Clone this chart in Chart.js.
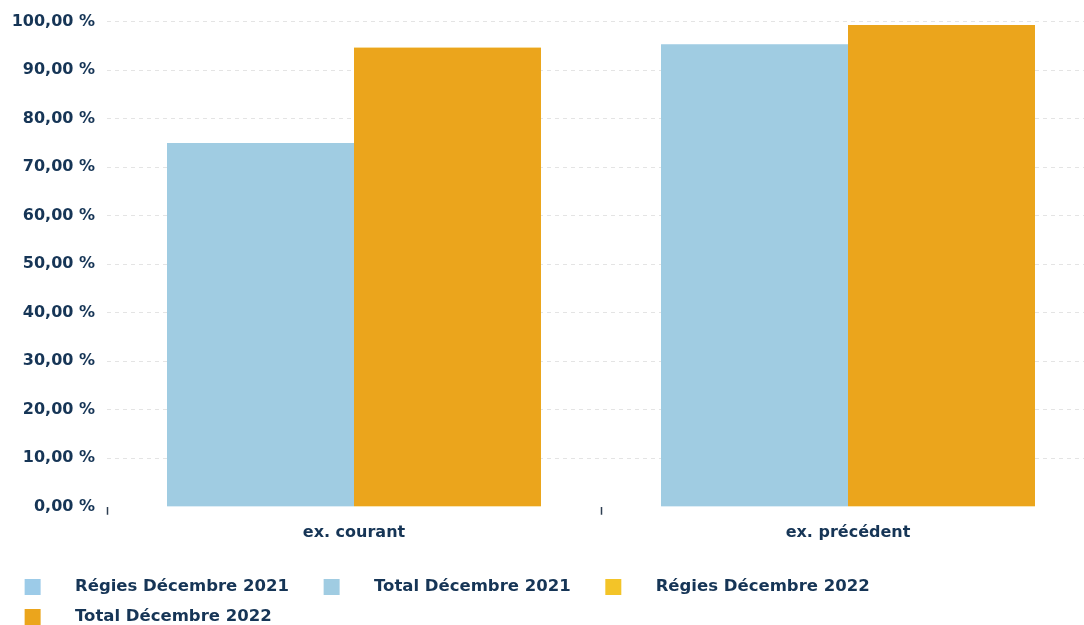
<!DOCTYPE html>
<html>
<head>
<meta charset="utf-8">
<script src="https://cdn.jsdelivr.net/npm/chart.js"></script>
<style>
    html, body { margin: 0; padding: 0; background: #fff; overflow: hidden; }
    #chart { position: absolute; left: -10px; top: 0; }
</style>
</head>
<body>
<canvas id="chart" width="1108" height="640"></canvas>
<script>
// Données
const categories = ['ex. courant', 'ex. précédent'];
const seriesNames = ['Régies Décembre 2021', 'Total Décembre 2021', 'Régies Décembre 2022', 'Total Décembre 2022'];
const regies2021 = [75.0, 95.3];
const total2021 = [75.0, 95.3];
const regies2022 = [94.6, 99.3];
const total2022 = [94.6, 99.3];
const seriesColors = ['#9ccbe8', '#a0cce2', '#f3c428', '#eba51c'];

const textColor = '#163556';
const fontFamily = '"DejaVu Sans", Verdana, sans-serif';

// petit carré de légende décalé dans une image, pour l'espacement
function legendSwatch(color) {
    const c = document.createElement('canvas');
    c.width = 63;
    c.height = 16;
    const ctx = c.getContext('2d');
    ctx.fillStyle = color;
    ctx.fillRect(21, 0, 16, 16);
    return c;
}
const swatches = seriesColors.map(legendSwatch);

const datasets = [
    { label: seriesNames[0], data: regies2021, stack: 's2021', order: 1 },
    { label: seriesNames[1], data: total2021, stack: 's2021', order: 0 },
    { label: seriesNames[2], data: regies2022, stack: 's2022', order: 1 },
    { label: seriesNames[3], data: total2022, stack: 's2022', order: 0 }
].map((d, i) => Object.assign(d, {
    backgroundColor: seriesColors[i],
    borderWidth: 0,
    categoryPercentage: 0.757,
    barPercentage: 1.0
}));

new Chart(document.getElementById('chart'), {
    type: 'bar',
    data: { labels: categories, datasets: datasets },
    options: {
        responsive: false,
        animation: false,
        layout: { padding: { top: 21, right: 3, bottom: 5, left: 0 } },
        plugins: {
            tooltip: { enabled: false },
            legend: {
                position: 'bottom',
                align: 'start',
                labels: {
                    usePointStyle: true,
                    pointStyleWidth: 63.25,
                    padding: 13.5,
                    color: textColor,
                    font: { family: fontFamily, size: 16.5, weight: 'bold' },
                    sort: (a, b) => a.datasetIndex - b.datasetIndex,
                    generateLabels: (chart) => {
                        const items = Chart.defaults.plugins.legend.labels.generateLabels(chart);
                        items.forEach(it => { it.pointStyle = swatches[it.datasetIndex]; });
                        return items;
                    }
                }
            }
        },
        scales: {
            x: {
                stacked: true,
                border: { display: false },
                grid: {
                    offset: true,
                    drawOnChartArea: false,
                    drawTicks: true,
                    tickLength: 8,
                    tickWidth: 1.5,
                    tickColor: '#2e3f52'
                },
                ticks: {
                    color: textColor,
                    padding: 8,
                    font: { family: fontFamily, size: 16, weight: 'bold' }
                },
                afterFit: (scale) => { scale.height = 58.25; }
            },
            y: {
                stacked: false,
                min: 0,
                max: 100,
                grid: {
                    drawTicks: false,
                    color: (ctx) => ctx.tick && ctx.tick.value === 0 ? 'rgba(0,0,0,0)' : '#e4e4e4',
                    lineWidth: 1
                },
                border: { display: false, dash: [4, 4] },
                ticks: {
                    stepSize: 10,
                    padding: 12,
                    color: textColor,
                    font: { family: fontFamily, size: 16, weight: 'bold' },
                    callback: (v) => v.toFixed(2).replace('.', ',') + ' %'
                },
                afterFit: (scale) => { scale.width = 117; }
            }
        }
    }
});
</script>
</body>
</html>
